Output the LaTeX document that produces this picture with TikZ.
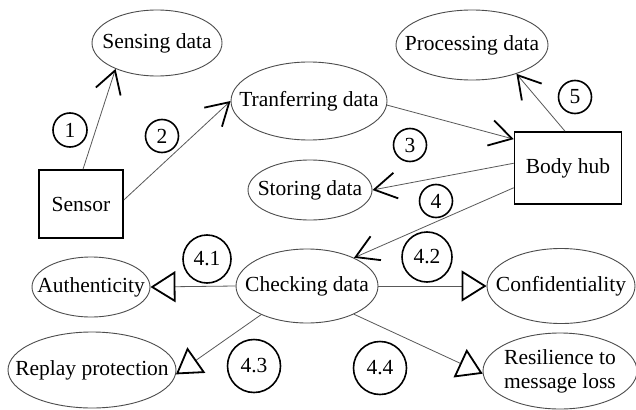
\documentclass[tikz,border=0pt]{standalone}
\usepackage{fontspec}
\setmainfont{Liberation Serif}
\usetikzlibrary{shapes.geometric,arrows.meta}
\begin{document}
\begin{tikzpicture}[x=1pt,y=-1pt,
 every node/.style={font=\fontsize{21.5}{24}\selectfont, inner sep=0pt},
 ell/.style={ellipse, draw=black!70, line width=0.9pt},
 box/.style={rectangle, draw=black, line width=1.6pt},
 num/.style={circle, draw=black, line width=1.6pt},
 conn/.style={draw=black!65, line width=0.8pt},
 barb/.style={conn, -{Straight Barb[length=22pt,width=26pt,line width=1.8pt,color=black]}},
 tri/.style={conn, -{Triangle[open,length=25pt,width=31pt,line width=1.8pt,color=black]}},
]
\useasboundingbox[fill=white] (0,0) rectangle (636,409);

% main nodes
\node[ell, minimum width=130pt, minimum height=66pt, label=center:Sensing data] (sense) at (157,43) {};
\node[ell, minimum width=156pt, minimum height=78pt, label=center:Tranferring data] (trans) at (309,101) {};
\node[ell, minimum width=124pt, minimum height=60pt, label=center:Storing data] (store) at (310,190) {};
\node[ell, minimum width=152pt, minimum height=70pt, label=center:Processing data] (proc) at (472,45) {};
\node[box, minimum width=84pt, minimum height=68pt] (sensor) at (81,204) {Sensor};
\node[box, minimum width=107pt, minimum height=72pt] (hub) at (568,168) {Body hub};
\node[ell, minimum width=142pt, minimum height=74pt, label=center:Checking data] (check) at (307,286) {};
\node[ell, minimum width=118pt, minimum height=60pt, label=center:Authenticity] (auth) at (91,287) {};
\node[ell, minimum width=168pt, minimum height=76pt, label=center:Replay protection] (replay) at (92,370) {};
\node[ell, minimum width=148pt, minimum height=75pt, label=center:Confidentiality] (conf) at (561,286) {};
\node[ell, minimum width=154pt, minimum height=76pt, label={[align=center]center:Resilience to\\message loss}] (resil) at (560,371) {};

% number labels
\node[num, minimum size=34pt] (n1) at (70,130) {1};
\node[num, minimum size=33pt] (n2) at (162,136) {2};
\node[num, minimum size=33pt] (n3) at (410,145) {3};
\node[num, minimum size=33pt] (n4) at (436,201) {4};
\node[num, minimum size=33pt] (n5) at (575,97) {5};
\node[num, minimum size=48pt] (n41) at (207,259) {4.1};
\node[num, minimum size=50pt] (n42) at (427,257) {4.2};
\node[num, minimum size=53pt] (n43) at (254,366) {4.3};
\node[num, minimum size=53pt] (n44) at (380,368) {4.4};

% connectors
\draw[barb] ([xshift=2pt]sensor.north) -- (sense.212);
\draw[barb] ([yshift=4pt]sensor.east) -- (trans.west);
\draw[barb] (trans.-3) -- (hub.152);
\draw[barb] (hub.175) -- (store.east);
\draw[barb] (hub.200) -- (check.31);
\draw[barb] ([xshift=-3pt]hub.north) -- (proc.-33);
\draw[tri] (check.west) -- (auth.east);
\draw[tri] (check.east) -- (conf.west);
\draw[tri] (check.212) -- (replay.-3);
\draw[tri] (check.-31) -- (resil.182);
\end{tikzpicture}
\end{document}
